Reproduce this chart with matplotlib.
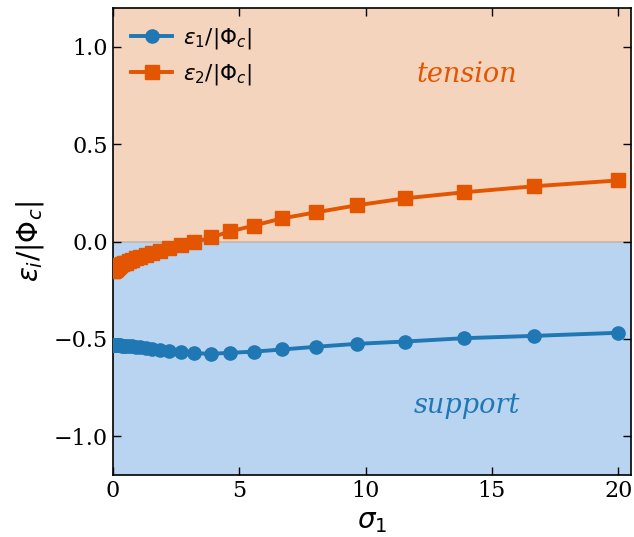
import matplotlib
matplotlib.use("Agg")
import matplotlib.pyplot as plt

sigma = [20.0, 16.67, 13.89, 11.57, 9.65, 8.04, 6.70, 5.58, 4.65, 3.88, 3.23, 2.69,
         2.24, 1.87, 1.56, 1.30, 1.08, 0.90, 0.75, 0.63, 0.52, 0.44, 0.36, 0.30,
         0.25, 0.21, 0.17, 0.145, 0.12, 0.10, 0.084, 0.07, 0.058, 0.048, 0.04, 0.02, 0.01]
eps1 = [-0.469, -0.485, -0.497, -0.514, -0.526, -0.541, -0.555, -0.566, -0.572, -0.577,
        -0.574, -0.569, -0.563, -0.557, -0.551, -0.546, -0.543, -0.540, -0.538, -0.537,
        -0.536, -0.535, -0.535, -0.534, -0.534, -0.534, -0.533, -0.533, -0.533, -0.533,
        -0.533, -0.533, -0.533, -0.533, -0.533, -0.533, -0.533]
eps2 = [0.314, 0.284, 0.253, 0.222, 0.186, 0.150, 0.119, 0.082, 0.052, 0.021,
        -0.003, -0.020, -0.034, -0.047, -0.060, -0.070, -0.079, -0.087, -0.095, -0.102,
        -0.108, -0.113, -0.118, -0.122, -0.126, -0.130, -0.133, -0.136, -0.139, -0.141,
        -0.143, -0.145, -0.146, -0.147, -0.148, -0.150, -0.151]

blue = "#1f77b4"
orange = "#e35500"

fig = plt.figure(figsize=(6.34, 5.37), dpi=100)
ax = fig.add_axes([0.178, 0.1155, 0.817, 0.8695])

ax.axhspan(0, 1.2, color="#f5d4be", zorder=0, lw=0)
ax.axhspan(-1.2, 0, color="#b8d4f0", zorder=0, lw=0)
ax.axhline(0, color="#c8b4a8", lw=1.2, zorder=1)

ax.plot(sigma, eps1, "-o", color=blue, lw=2.8, ms=9.5, label=r"$\varepsilon_1/|\Phi_c|$", zorder=3)
ax.plot(sigma, eps2, "-s", color=orange, lw=2.8, ms=9.5, label=r"$\varepsilon_2/|\Phi_c|$", zorder=3)

ax.text(14.0, 0.86, "tension", color=orange, fontsize=19.5, family="DejaVu Serif",
        style="italic", ha="center", va="center")
ax.text(14.0, -0.845, "support", color=blue, fontsize=19.5, family="DejaVu Serif",
        style="italic", ha="center", va="center")

ax.set_xlim(0, 20.5)
ax.set_ylim(-1.2, 1.2)
ax.set_xticks([0, 5, 10, 15, 20])
ax.set_yticks([-1.0, -0.5, 0.0, 0.5, 1.0])
ax.tick_params(direction="in", top=True, right=True, length=6, width=1, labelsize=16)
ax.set_xticklabels(["0", "5", "10", "15", "20"], family="DejaVu Serif")
ax.set_yticklabels(["\u22121.0", "\u22120.5", "0.0", "0.5", "1.0"], family="DejaVu Serif")
for s in ax.spines.values():
    s.set_linewidth(1.2)

ax.set_xlabel(r"$\sigma_1$", fontsize=20, labelpad=4)
ax.set_ylabel(r"$\varepsilon_i/|\Phi_c|$", fontsize=20, labelpad=6)

ax.legend(loc="upper left", frameon=False, fontsize=15.5, handlelength=1.9,
          handletextpad=0.5, borderaxespad=0.45, labelspacing=0.5)

fig.savefig("out.png", dpi=100)
